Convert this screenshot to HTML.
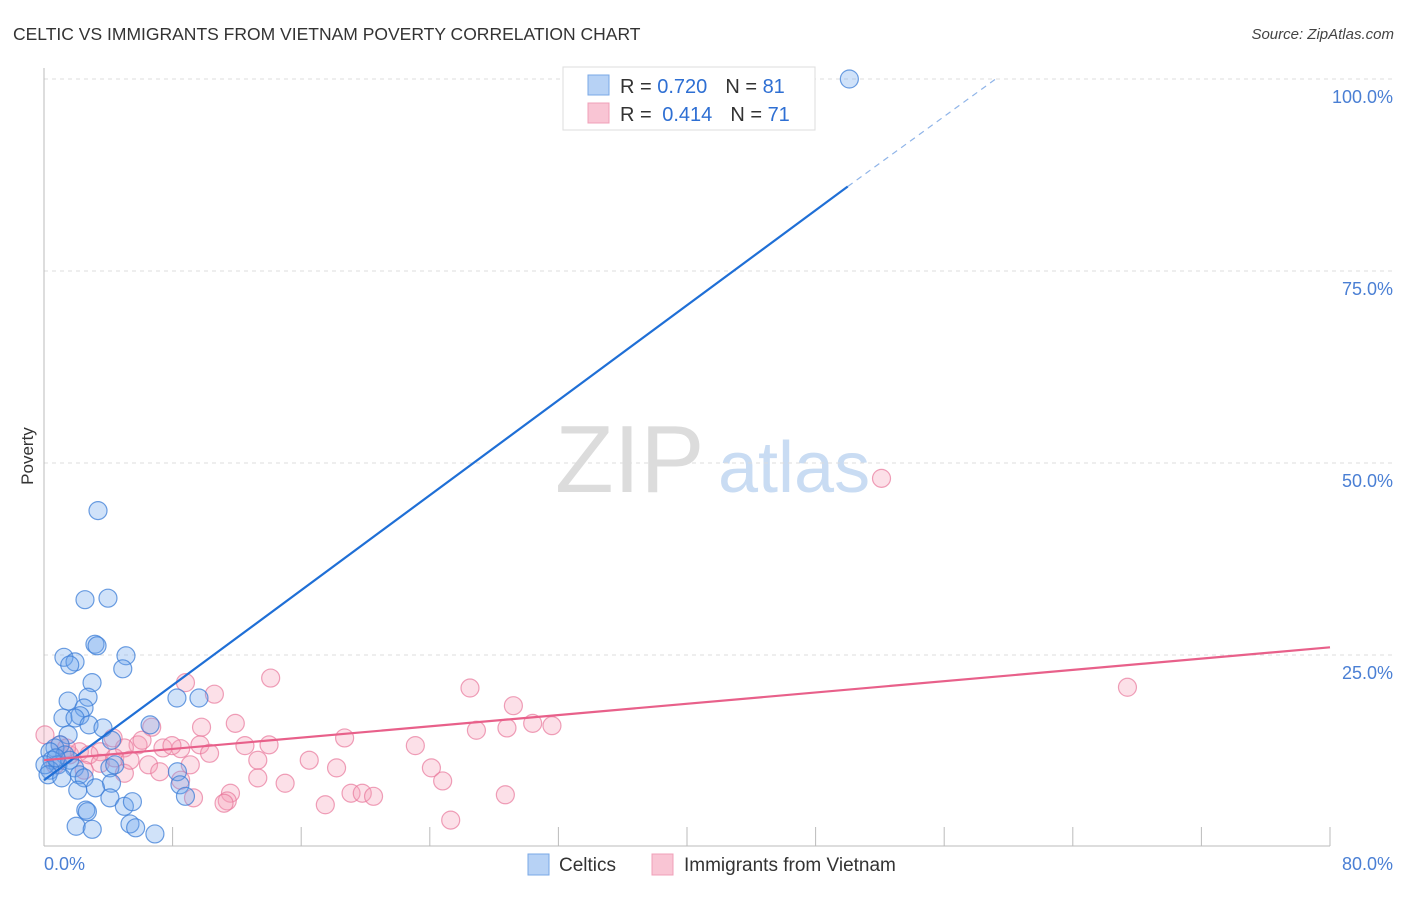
<!DOCTYPE html>
<html><head><meta charset="utf-8"><style>
body{margin:0;background:#fff;width:1406px;height:892px;overflow:hidden;font-family:"Liberation Sans",sans-serif}
svg text{font-family:"Liberation Sans",sans-serif}
</style></head><body>
<svg id="chart" width="1406" height="892" xmlns="http://www.w3.org/2000/svg">
<text x="13" y="40" font-size="17.5" fill="#333">CELTIC VS IMMIGRANTS FROM VIETNAM POVERTY CORRELATION CHART</text>
<text x="1394" y="39" font-size="15" fill="#444" text-anchor="end" font-style="italic">Source: ZipAtlas.com</text>
<g>
<text x="555" y="492" font-size="96" fill="#dcdcdc" font-family="Liberation Serif,serif">ZIP</text>
<text x="718" y="492" font-size="72" fill="#c9dcf3">atlas</text>
</g>
<g id="grid"></g>
<g id="axes"></g>
<g id="pts"></g>
<g id="lines"></g>
<g>
<rect x="563" y="67" width="252" height="63" fill="#fff" stroke="#ddd"/>
<rect x="588" y="75" width="21" height="20" fill="#b7d2f5" stroke="#7aa8e6"/>
<rect x="588" y="103" width="21" height="20" fill="#f9c5d4" stroke="#f0a0b8"/>
<text x="620" y="93" font-size="20" fill="#333">R = <tspan fill="#2e6fd3">0.720</tspan><tspan dx="18">N = </tspan><tspan fill="#2e6fd3">81</tspan></text>
<text x="620" y="121" font-size="20" fill="#333">R = <tspan fill="#2e6fd3" dx="5">0.414</tspan><tspan dx="18">N = </tspan><tspan fill="#2e6fd3">71</tspan></text>
</g>
<g>
<rect x="528" y="854" width="21" height="21" fill="#b7d2f5" stroke="#7aa8e6"/>
<text x="559" y="871" font-size="19" fill="#333">Celtics</text>
<rect x="652" y="854" width="21" height="21" fill="#f9c5d4" stroke="#f0a0b8"/>
<text x="684" y="871" font-size="19" fill="#333">Immigrants from Vietnam</text>
</g>
</svg>
<script>
const yTicks=[25,50,75,100];
const yTickLabels=["25.0%","50.0%","75.0%","100.0%"];
const xTickVals=[0,8,16,24,32,40,48,56,64,72,80];
const celticsX=[50.1,3.36,2.55,3.98,3.17,3.3,5.1,4.9,1.24,1.93,1.6,2.99,2.74,1.5,8.27,9.64,2.49,1.18,2.24,1.93,2.8,3.67,6.6,1.5,1.0,4.2,0.68,0.37,1.3,0.5,0.87,0.37,1.6,0.06,1.9,4.1,4.4,8.3,2.2,2.5,8.46,4.2,2.1,3.2,8.8,4.1,2.6,2.7,5.0,5.5,2.0,3.0,5.35,5.7,6.9,0.25,1.1,0.75];
const celticsY=[100,43.8,32.2,32.4,26.4,26.2,24.9,23.2,24.7,24.1,23.7,21.4,19.5,19.0,19.4,19.4,18.1,16.8,17.1,16.8,15.9,15.5,15.9,14.6,13.3,13.9,12.9,12.4,12.0,11.3,10.7,10.0,11.3,10.7,10.3,10.3,10.7,9.8,9.4,9.0,8.1,8.3,7.4,7.7,6.6,6.4,4.8,4.6,5.3,5.9,2.7,2.3,3.0,2.5,1.7,9.4,9.0,11.6];
const vietX=[52.1,67.4,8.8,14.1,10.6,26.5,29.2,30.4,31.6,26.9,28.8,9.8,11.9,6.7,18.7,14.0,12.5,23.1,9.7,8.5,7.4,5.85,5.0,4.3,3.5,10.3,7.96,16.5,13.3,9.1,6.5,7.2,5.0,18.2,24.1,13.3,24.8,15.0,8.5,11.6,19.1,19.8,20.5,28.7,17.5,11.4,11.2,9.3,25.3,0.06,1.0,1.6,2.2,2.8,0.7,3.5,4.4,5.35,2.5,1.4,6.1];
const vietY=[48.0,20.8,21.4,22.0,19.9,20.7,18.4,16.1,15.8,15.2,15.5,15.6,16.1,15.6,14.2,13.3,13.2,13.2,13.3,12.8,12.9,13.3,12.9,14.2,12.4,12.2,13.2,11.3,11.3,10.7,10.7,9.8,9.6,10.3,10.3,9.0,8.6,8.3,8.7,7.0,7.0,7.0,6.6,6.8,5.5,6.0,5.7,6.4,3.5,14.6,13.3,12.0,12.4,12.0,10.7,10.9,11.6,11.3,10.0,12.9,13.9];
const celticsTrend=[[0,8.7],[50,86]];
const celticsTrendExt=[[50,86],[59.2,100]];
const vietTrend=[[0,11.3],[80,26]];
const X=v=>44+v*16.075, Y=v=>847-v*7.68;
const NS="http://www.w3.org/2000/svg";
function mk(t,a,p){const e=document.createElementNS(NS,t);for(const k in a)e.setAttribute(k,a[k]);p.appendChild(e);return e;}
const grid=document.getElementById('grid'),axes=document.getElementById('axes'),pts=document.getElementById('pts'),lines=document.getElementById('lines');
yTicks.forEach((t,i)=>{
 const g=mk('line',{x1:44,x2:1392,y1:Y(t),y2:Y(t),stroke:'#ddd','stroke-dasharray':'4,4'},grid);
 
 
 const l=mk('text',{x:1393,y:Y(t)+24,'font-size':18,fill:'#4a7fd4','text-anchor':'end'},axes);
 
 
 l.textContent=yTickLabels[i];
});
mk('line',{x1:44,x2:44,y1:68,y2:846,stroke:'#bbb'},axes);
mk('line',{x1:44,x2:1330,y1:846,y2:846,stroke:'#bbb'},axes);
xTickVals.forEach(v=>{if(v>0){const t=mk('line',{x1:X(v),x2:X(v),y1:827,y2:846,stroke:'#bbb'},axes);
 
 }});
const x0=mk('text',{x:44,y:870,'font-size':18,fill:'#4a7fd4'},axes);x0.textContent='0.0%';

const x1=mk('text',{x:1393,y:870,'font-size':18,fill:'#4a7fd4','text-anchor':'end'},axes);x1.textContent='80.0%';

const yt=mk('text',{x:33,y:456,'font-size':17,fill:'#333','text-anchor':'middle',transform:'rotate(-90 33 456)'},axes);yt.textContent='Poverty';


vietX.forEach((v,i)=>{const c=mk('circle',{cx:X(v),cy:Y(vietY[i]),r:9,fill:'rgba(245,160,185,0.32)',stroke:'rgba(232,120,155,0.7)','stroke-width':1.2},pts);
 
 });
celticsX.forEach((v,i)=>{const c=mk('circle',{cx:X(v),cy:Y(celticsY[i]),r:9,fill:'rgba(110,165,235,0.32)',stroke:'rgba(60,125,215,0.75)','stroke-width':1.2},pts);
 
 });
const bl=mk('line',{x1:X(celticsTrend[0][0]),y1:Y(celticsTrend[0][1]),x2:X(celticsTrend[1][0]),y2:Y(celticsTrend[1][1]),stroke:'#1f6fd6','stroke-width':2.2},lines);


const be=mk('line',{x1:X(celticsTrendExt[0][0]),y1:Y(celticsTrendExt[0][1]),x2:X(celticsTrendExt[1][0]),y2:Y(celticsTrendExt[1][1]),stroke:'#8fb4e8','stroke-width':1.2,'stroke-dasharray':'6,5'},lines);


const pl=mk('line',{x1:X(vietTrend[0][0]),y1:Y(vietTrend[0][1]),x2:X(vietTrend[1][0]),y2:Y(vietTrend[1][1]),stroke:'#e8608a','stroke-width':2.2},lines);


</script>
</body></html>
